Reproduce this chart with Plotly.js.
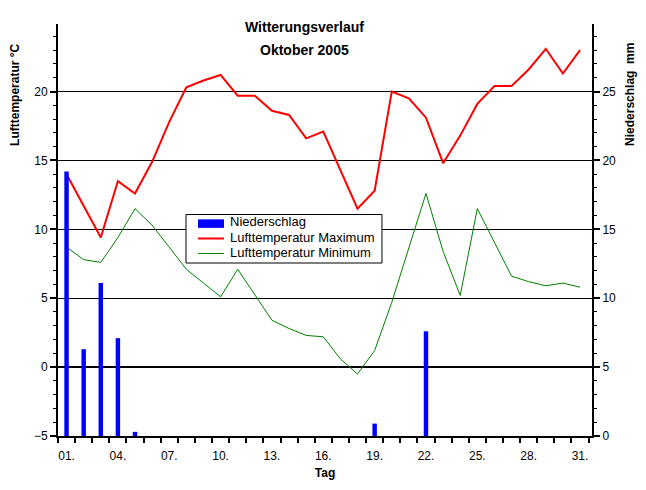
<!DOCTYPE html>
<html><head><meta charset="utf-8">
<script src="https://cdn.plot.ly/plotly-3.0.1.min.js"></script>
<style>body{margin:0;background:#fff}#chart{width:646px;height:490px}</style>
</head><body><div id="chart"></div>
<script>
const days = [1,2,3,4,5,6,7,8,9,10,11,12,13,14,15,16,17,18,19,20,21,22,23,24,25,26,27,28,29,30,31];
const tempMax = [14.0,11.7,9.4,13.5,12.6,14.9,17.8,20.3,20.8,21.2,19.7,19.7,18.6,18.3,16.6,17.1,14.3,11.5,12.8,20.0,19.5,18.1,14.8,16.8,19.1,20.4,20.4,21.6,23.1,21.3,23.0];
const tempMin = [8.7,7.8,7.6,9.4,11.5,10.3,8.7,7.1,6.1,5.1,7.1,5.2,3.4,2.8,2.3,2.2,0.6,-0.5,1.2,4.7,8.6,12.6,8.4,5.2,11.5,9.1,6.6,6.2,5.9,6.1,5.8];
const precip = [19.2,6.3,11.1,7.1,0.3,0,0,0,0,0,0,0,0,0,0,0,0,0,0.9,0,0,7.6,0,0,0,0,0,0,0,0,0];
const tickDays = [1,4,7,10,13,16,19,22,25,28,31];
const tickText = ["01.","04.","07.","10.","13.","16.","19.","22.","25.","28.","31."];
const seriesNames = ['Niederschlag', 'Lufttemperatur Maximum', 'Lufttemperatur Minimum'];
const seriesColors = ['#0000ff', '#ff0000', '#008000'];

const F = "Liberation Sans, Arial, sans-serif";
const traces = [
  {x: days, y: precip, type: 'bar', name: seriesNames[0], yaxis: 'y2', width: 0.26,
   marker: {color: seriesColors[0], line: {width: 0}}},
  {x: days, y: tempMax, type: 'scatter', mode: 'lines', name: seriesNames[1],
   line: {color: seriesColors[1], width: 2}},
  {x: days, y: tempMin, type: 'scatter', mode: 'lines', name: seriesNames[2],
   line: {color: seriesColors[2], width: 1}}
];

// hand-drawn legend (compact, like the original)
const lgX0 = 0.2397, lgX1 = 0.6067, lgY0 = 0.4199, lgY1 = 0.5376;
const symX0 = 0.2622, symX1 = 0.3109, txtX = 0.3184;
const rowY = [0.5155, 0.4794, 0.4430];
const shapes = [
  {type: 'rect', xref: 'paper', yref: 'paper', x0: lgX0, x1: lgX1, y0: lgY0, y1: lgY1,
   fillcolor: '#fff', line: {color: '#000', width: 1}, layer: 'above'},
  {type: 'rect', xref: 'paper', yref: 'paper', x0: symX0, x1: symX1, y0: rowY[0] - 0.0103, y1: rowY[0] + 0.0103,
   fillcolor: seriesColors[0], line: {width: 0}, layer: 'above'},
  {type: 'line', xref: 'paper', yref: 'paper', x0: symX0, x1: symX1, y0: rowY[1], y1: rowY[1],
   line: {color: seriesColors[1], width: 2}, layer: 'above'},
  {type: 'line', xref: 'paper', yref: 'paper', x0: symX0, x1: symX1, y0: rowY[2], y1: rowY[2],
   line: {color: seriesColors[2], width: 1}, layer: 'above'}
];
const legendAnn = seriesNames.map((n, i) => ({
  text: n, xref: 'paper', yref: 'paper', x: txtX, y: rowY[i] + (i === 0 ? 0.004 : 0.002), showarrow: false,
  xanchor: 'left', yanchor: 'middle', font: {family: F, size: 13, color: '#000'}
}));

const layout = {
  width: 646, height: 490,
  margin: {l: 58, r: 54, t: 24, b: 54},
  paper_bgcolor: '#fff', plot_bgcolor: '#fff',
  font: {family: F, size: 12, color: '#000'},
  showlegend: false,
  xaxis: {range: [0.5, 31.7], tickvals: tickDays, ticktext: tickText, ticks: '',
          showgrid: false, zeroline: false, showline: true, linecolor: '#000', linewidth: 2,
          ticklabelstandoff: 8, tickfont: {family: F, size: 12, color: '#000'},
          minor: {tick0: 0.5, dtick: 1, ticks: 'outside', ticklen: 5, tickwidth: 2, tickcolor: '#000', showgrid: false},
          title: {text: '<b>Tag</b>', font: {family: F, size: 12, color: '#000'}, standoff: 6}},
  yaxis: {range: [-5, 24.9], dtick: 5, tick0: 0, showgrid: true, gridcolor: '#000', gridwidth: 1,
          zeroline: true, zerolinecolor: '#000', zerolinewidth: 2,
          showline: true, linecolor: '#000', linewidth: 2, ticks: 'outside', ticklen: 6, tickwidth: 2, tickcolor: '#000',
          minor: {dtick: 1, ticks: 'outside', ticklen: 3, tickwidth: 1, tickcolor: '#000', showgrid: false},
          tickfont: {family: F, size: 12, color: '#000'}},
  yaxis2: {range: [0, 29.9], dtick: 5, tick0: 0, overlaying: 'y', side: 'right', showgrid: false, zeroline: false,
           showline: true, linecolor: '#000', linewidth: 2, ticks: 'outside', ticklen: 6, tickwidth: 2, tickcolor: '#000',
           minor: {dtick: 1, ticks: 'outside', ticklen: 3, tickwidth: 1, tickcolor: '#000', showgrid: false},
           tickfont: {family: F, size: 12, color: '#000'}},
  shapes: shapes,
  annotations: [
    {text: '<b>Witterungsverlauf</b>', xref: 'paper', yref: 'paper', x: 0.4625, y: 0.993, showarrow: false,
     font: {family: F, size: 14, color: '#000'}, xanchor: 'center', yanchor: 'middle'},
    {text: '<b>Oktober 2005</b>', xref: 'paper', yref: 'paper', x: 0.4625, y: 0.937, showarrow: false,
     font: {family: F, size: 14, color: '#000'}, xanchor: 'center', yanchor: 'middle'},
    {text: '<b>Lufttemperatur °C</b>', xref: 'paper', yref: 'paper', x: -0.0805, y: 0.828, textangle: -90, showarrow: false,
     font: {family: F, size: 12, color: '#000'}, xanchor: 'center', yanchor: 'middle'},
    {text: '<b>Niederschlag  mm</b>', xref: 'paper', yref: 'paper', x: 1.071, y: 0.83, textangle: -90, showarrow: false,
     font: {family: F, size: 12, color: '#000'}, xanchor: 'center', yanchor: 'middle'}
  ].concat(legendAnn)
};
Plotly.newPlot('chart', traces, layout, {displayModeBar: false, staticPlot: true});
</script></body></html>
